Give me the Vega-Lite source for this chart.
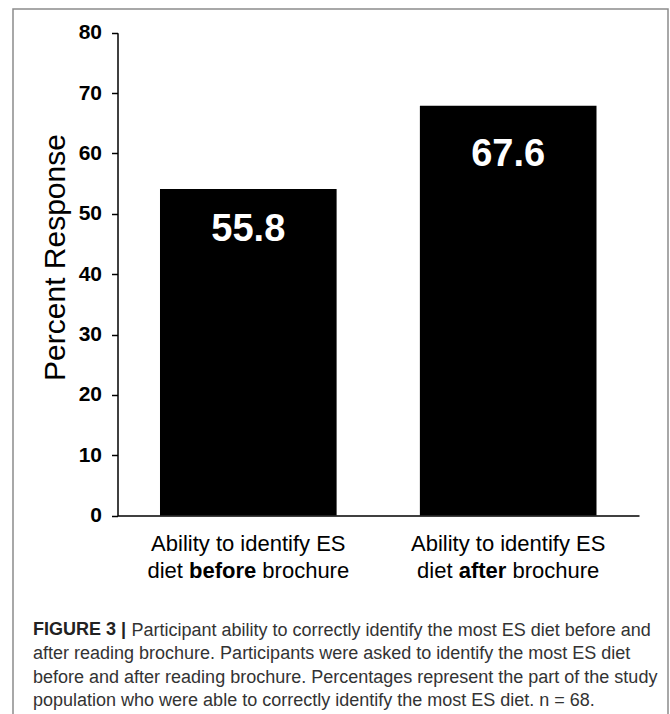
{
  "$schema": "https://vega.github.io/schema/vega-lite/v6.json",
  "width": 655,
  "height": 720,
  "autosize": {"type": "none"},
  "padding": {"left": 13, "top": 9, "right": 2, "bottom": 0},
  "background": "white",
  "config": {
    "view": {"stroke": "#8c8c8c", "strokeWidth": 1.5},
    "font": "Liberation Sans"
  },
  "title": {
    "text": "FIGURE 3 |",
    "subtitle": [
      "after reading brochure. Participants were asked to identify the most ES diet",
      "before and after reading brochure. Percentages represent the part of the study",
      "population who were able to correctly identify the most ES diet. n = 68."
    ],
    "orient": "top",
    "anchor": "start",
    "frame": "group",
    "font": "Liberation Sans",
    "fontSize": 18,
    "fontWeight": "bold",
    "color": "#222222",
    "subtitleFont": "Liberation Sans",
    "subtitleFontSize": 18,
    "subtitleColor": "#333333",
    "subtitleLineHeight": 23.5,
    "subtitlePadding": 6,
    "offset": 0,
    "dx": 20,
    "dy": 701
  },
  "data": {
    "values": [
      {"condition": "before", "value": 54.1, "label": "55.8", "pre": "diet", "bold": "before", "post": "brochure"},
      {"condition": "after", "value": 67.9, "label": "67.6", "pre": "diet", "bold": "after", "post": "brochure"}
    ]
  },
  "encoding": {
    "x": {
      "field": "condition",
      "type": "nominal",
      "sort": ["before", "after"],
      "scale": {"domain": ["before", "after"], "range": [104.5, 626], "paddingInner": 0.3204, "paddingOuter": 0.1635},
      "axis": {
        "orient": "bottom",
        "offset": -213.4,
        "labelExpr": "'Ability to identify ES'",
        "labelFont": "Liberation Sans",
        "labelFontSize": 22,
        "labelColor": "black",
        "labelBaseline": "alphabetic",
        "labelPadding": 35,
        "labelAngle": 0,
        "labelLimit": 0,
        "ticks": false,
        "tickSize": 0,
        "domainColor": "black",
        "domainWidth": 1.5,
        "title": "Participant ability to correctly identify the most ES diet before and",
        "titleFont": "Liberation Sans",
        "titleFontSize": 18,
        "titleFontWeight": "normal",
        "titleColor": "#333333",
        "titleAlign": "left",
        "titleAnchor": "start",
        "titleBaseline": "alphabetic",
        "titleX": 118,
        "titleY": 120,
        "titleLimit": 0
      }
    }
  },
  "layer": [
    {
      "mark": {"type": "bar", "color": "black"},
      "encoding": {
        "y": {
          "field": "value",
          "type": "quantitative",
          "scale": {"domain": [0, 80], "range": [506.6, 23.7], "nice": false, "zero": true},
          "axis": {
            "orient": "left",
            "offset": -104.5,
            "values": [0, 10, 20, 30, 40, 50, 60, 70, 80],
            "grid": false,
            "labelFont": "Liberation Sans",
            "labelFontSize": 21,
            "labelFontWeight": "bold",
            "labelColor": "black",
            "labelPadding": 10,
            "tickSize": 6,
            "tickWidth": 1.5,
            "tickColor": "black",
            "domainColor": "black",
            "domainWidth": 1.5,
            "title": "Percent Response",
            "titleFont": "Liberation Sans",
            "titleFontSize": 30,
            "titleFontWeight": "normal",
            "titleColor": "black",
            "titleAngle": -90,
            "titleAlign": "center",
            "titleBaseline": "middle",
            "titleX": -62.5,
            "titleY": 248,
            "titleLimit": 0
          }
        }
      }
    },
    {
      "transform": [{"filter": "datum.condition === 'before'"}],
      "mark": {"type": "text", "color": "white", "fontSize": 38, "fontWeight": "bold", "font": "Liberation Sans", "baseline": "alphabetic", "dy": 52},
      "encoding": {
        "y": {"field": "value", "type": "quantitative"},
        "text": {"field": "label"}
      }
    },
    {
      "transform": [{"filter": "datum.condition === 'after'"}],
      "mark": {"type": "text", "color": "white", "fontSize": 38, "fontWeight": "bold", "font": "Liberation Sans", "baseline": "alphabetic", "dy": 60},
      "encoding": {
        "y": {"field": "value", "type": "quantitative"},
        "text": {"field": "label"}
      }
    },
    {
      "mark": {"type": "text", "color": "black", "fontSize": 22, "fontWeight": "bold", "font": "Liberation Sans", "baseline": "alphabetic", "align": "center", "dx": -25.65, "dy": 62.4},
      "encoding": {
        "y": {"datum": 0},
        "text": {"field": "bold"}
      }
    },
    {
      "transform": [{"filter": "datum.condition === 'before'"}],
      "mark": {"type": "text", "color": "black", "fontSize": 22, "font": "Liberation Sans", "baseline": "alphabetic", "align": "left", "dx": -100.85, "dy": 62.4},
      "encoding": {
        "y": {"datum": 0},
        "text": {"field": "pre"}
      }
    },
    {
      "transform": [{"filter": "datum.condition === 'before'"}],
      "mark": {"type": "text", "color": "black", "fontSize": 22, "font": "Liberation Sans", "baseline": "alphabetic", "align": "left", "dx": 14.05, "dy": 62.4},
      "encoding": {
        "y": {"datum": 0},
        "text": {"field": "post"}
      }
    },
    {
      "transform": [{"filter": "datum.condition === 'after'"}],
      "mark": {"type": "text", "color": "black", "fontSize": 22, "font": "Liberation Sans", "baseline": "alphabetic", "align": "left", "dx": -91.1, "dy": 62.4},
      "encoding": {
        "y": {"datum": 0},
        "text": {"field": "pre"}
      }
    },
    {
      "transform": [{"filter": "datum.condition === 'after'"}],
      "mark": {"type": "text", "color": "black", "fontSize": 22, "font": "Liberation Sans", "baseline": "alphabetic", "align": "left", "dx": 4.3, "dy": 62.4},
      "encoding": {
        "y": {"datum": 0},
        "text": {"field": "post"}
      }
    }
  ]
}
